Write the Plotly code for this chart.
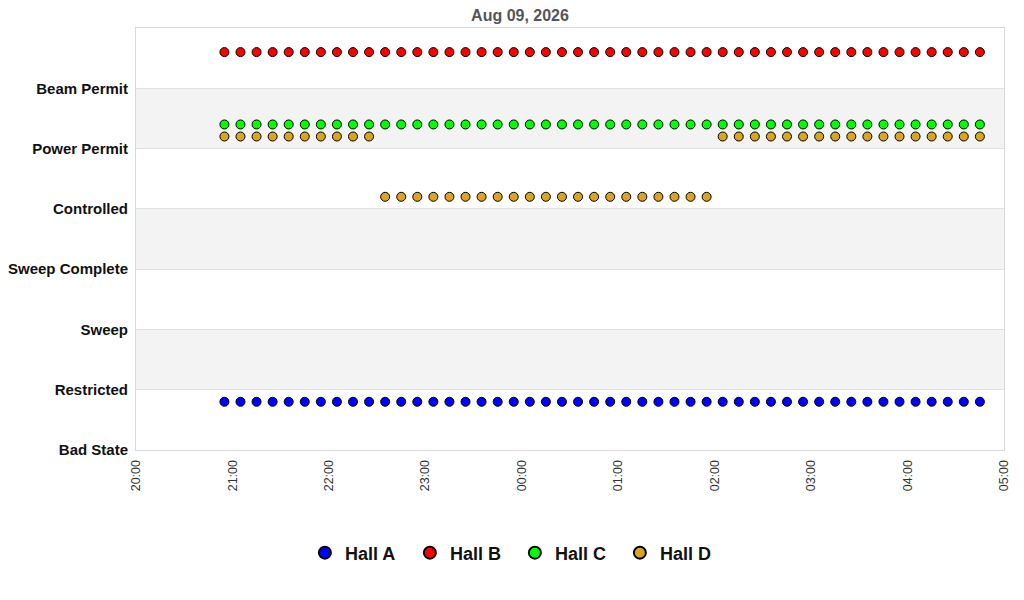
import pandas as pd
import plotly.graph_objects as go

# y categories, bottom to top
states = ["Bad State", "Restricted", "Sweep", "Sweep Complete",
          "Controlled", "Power Permit", "Beam Permit"]

# samples every 10 minutes starting 20:55
start_time = "2026-08-09 20:55"
n_samples = 48

# state index of each hall at each sample (0 = Bad State ... 6 = Beam Permit)
hall_a = [0, 0, 0, 0, 0, 0, 0, 0, 0, 0, 0, 0, 0, 0, 0, 0,
          0, 0, 0, 0, 0, 0, 0, 0, 0, 0, 0, 0, 0, 0, 0, 0,
          0, 0, 0, 0, 0, 0, 0, 0, 0, 0, 0, 0, 0, 0, 0, 0]
hall_b = [6, 6, 6, 6, 6, 6, 6, 6, 6, 6, 6, 6, 6, 6, 6, 6,
          6, 6, 6, 6, 6, 6, 6, 6, 6, 6, 6, 6, 6, 6, 6, 6,
          6, 6, 6, 6, 6, 6, 6, 6, 6, 6, 6, 6, 6, 6, 6, 6]
hall_c = [5, 5, 5, 5, 5, 5, 5, 5, 5, 5, 5, 5, 5, 5, 5, 5,
          5, 5, 5, 5, 5, 5, 5, 5, 5, 5, 5, 5, 5, 5, 5, 5,
          5, 5, 5, 5, 5, 5, 5, 5, 5, 5, 5, 5, 5, 5, 5, 5]
hall_d = [5, 5, 5, 5, 5, 5, 5, 5, 5, 5, 4, 4, 4, 4, 4, 4,
          4, 4, 4, 4, 4, 4, 4, 4, 4, 4, 4, 4, 4, 4, 4, 5,
          5, 5, 5, 5, 5, 5, 5, 5, 5, 5, 5, 5, 5, 5, 5, 5]

halls = ["Hall A", "Hall B", "Hall C", "Hall D"]
colors = ["#0000ff", "#ff0000", "#00ff00", "#daa520"]
# vertical offset inside a state band so the halls don't overlap
offsets = [0.8, 0.6, 0.4, 0.2]

times = pd.date_range(start_time, periods=n_samples, freq="10min")

fig = go.Figure()

# alternating grey bands
for lo in (1, 3, 5):
    fig.add_shape(type="rect", xref="paper", yref="y", x0=0, x1=1, y0=lo, y1=lo + 1,
                  fillcolor="#f3f3f3", line_width=0, layer="below")

for name, vals, col, off in zip(halls, [hall_a, hall_b, hall_c, hall_d], colors, offsets):
    fig.add_trace(go.Scatter(
        x=times, y=[v + off for v in vals], mode="markers", name=name,
        marker=dict(color=col, size=9, symbol="circle", line=dict(color="black", width=1)),
        customdata=[states[v] for v in vals],
        hovertemplate="%{x|%H:%M}<br>%{customdata}<extra>" + name + "</extra>",
    ))

fig.update_layout(
    width=1024, height=600,
    margin=dict(l=128, r=28, t=20, b=158),
    plot_bgcolor="white", paper_bgcolor="white",
    font=dict(family="Liberation Sans, Arial, sans-serif"),
    title=dict(text="<b>Aug 09, 2026</b>", x=0.5, xanchor="center",
               y=0.988, yanchor="middle",
               font=dict(size=16, color="#555555")),
    showlegend=True,
    legend=dict(orientation="h", x=0.4365, xanchor="center",
                y=-0.244, yanchor="middle",
                font=dict(size=18, color="#111111", weight="bold"), itemsizing="constant",
                entrywidth=60),
)

fig.update_xaxes(
    range=["2026-08-09 20:00", "2026-08-10 05:00"],
    dtick=3600000, tickformat="%H:%M", tickangle=-90,
    showgrid=False, zeroline=False,
    showline=True, linecolor="#d9d9d9", mirror=True,
    ticklabelstandoff=4,
    tickfont=dict(size=12.5, color="#333333"),
)
fig.update_yaxes(
    range=[0, 7], tickvals=list(range(len(states))), ticktext=states,
    showgrid=True, gridcolor="#e0e0e0", zeroline=False,
    showline=True, linecolor="#d9d9d9", mirror=True,
    ticks="", ticklabelstandoff=4, automargin=False,
    tickfont=dict(size=15, color="#111111", weight="bold"),
)

fig.write_html("out.html")
